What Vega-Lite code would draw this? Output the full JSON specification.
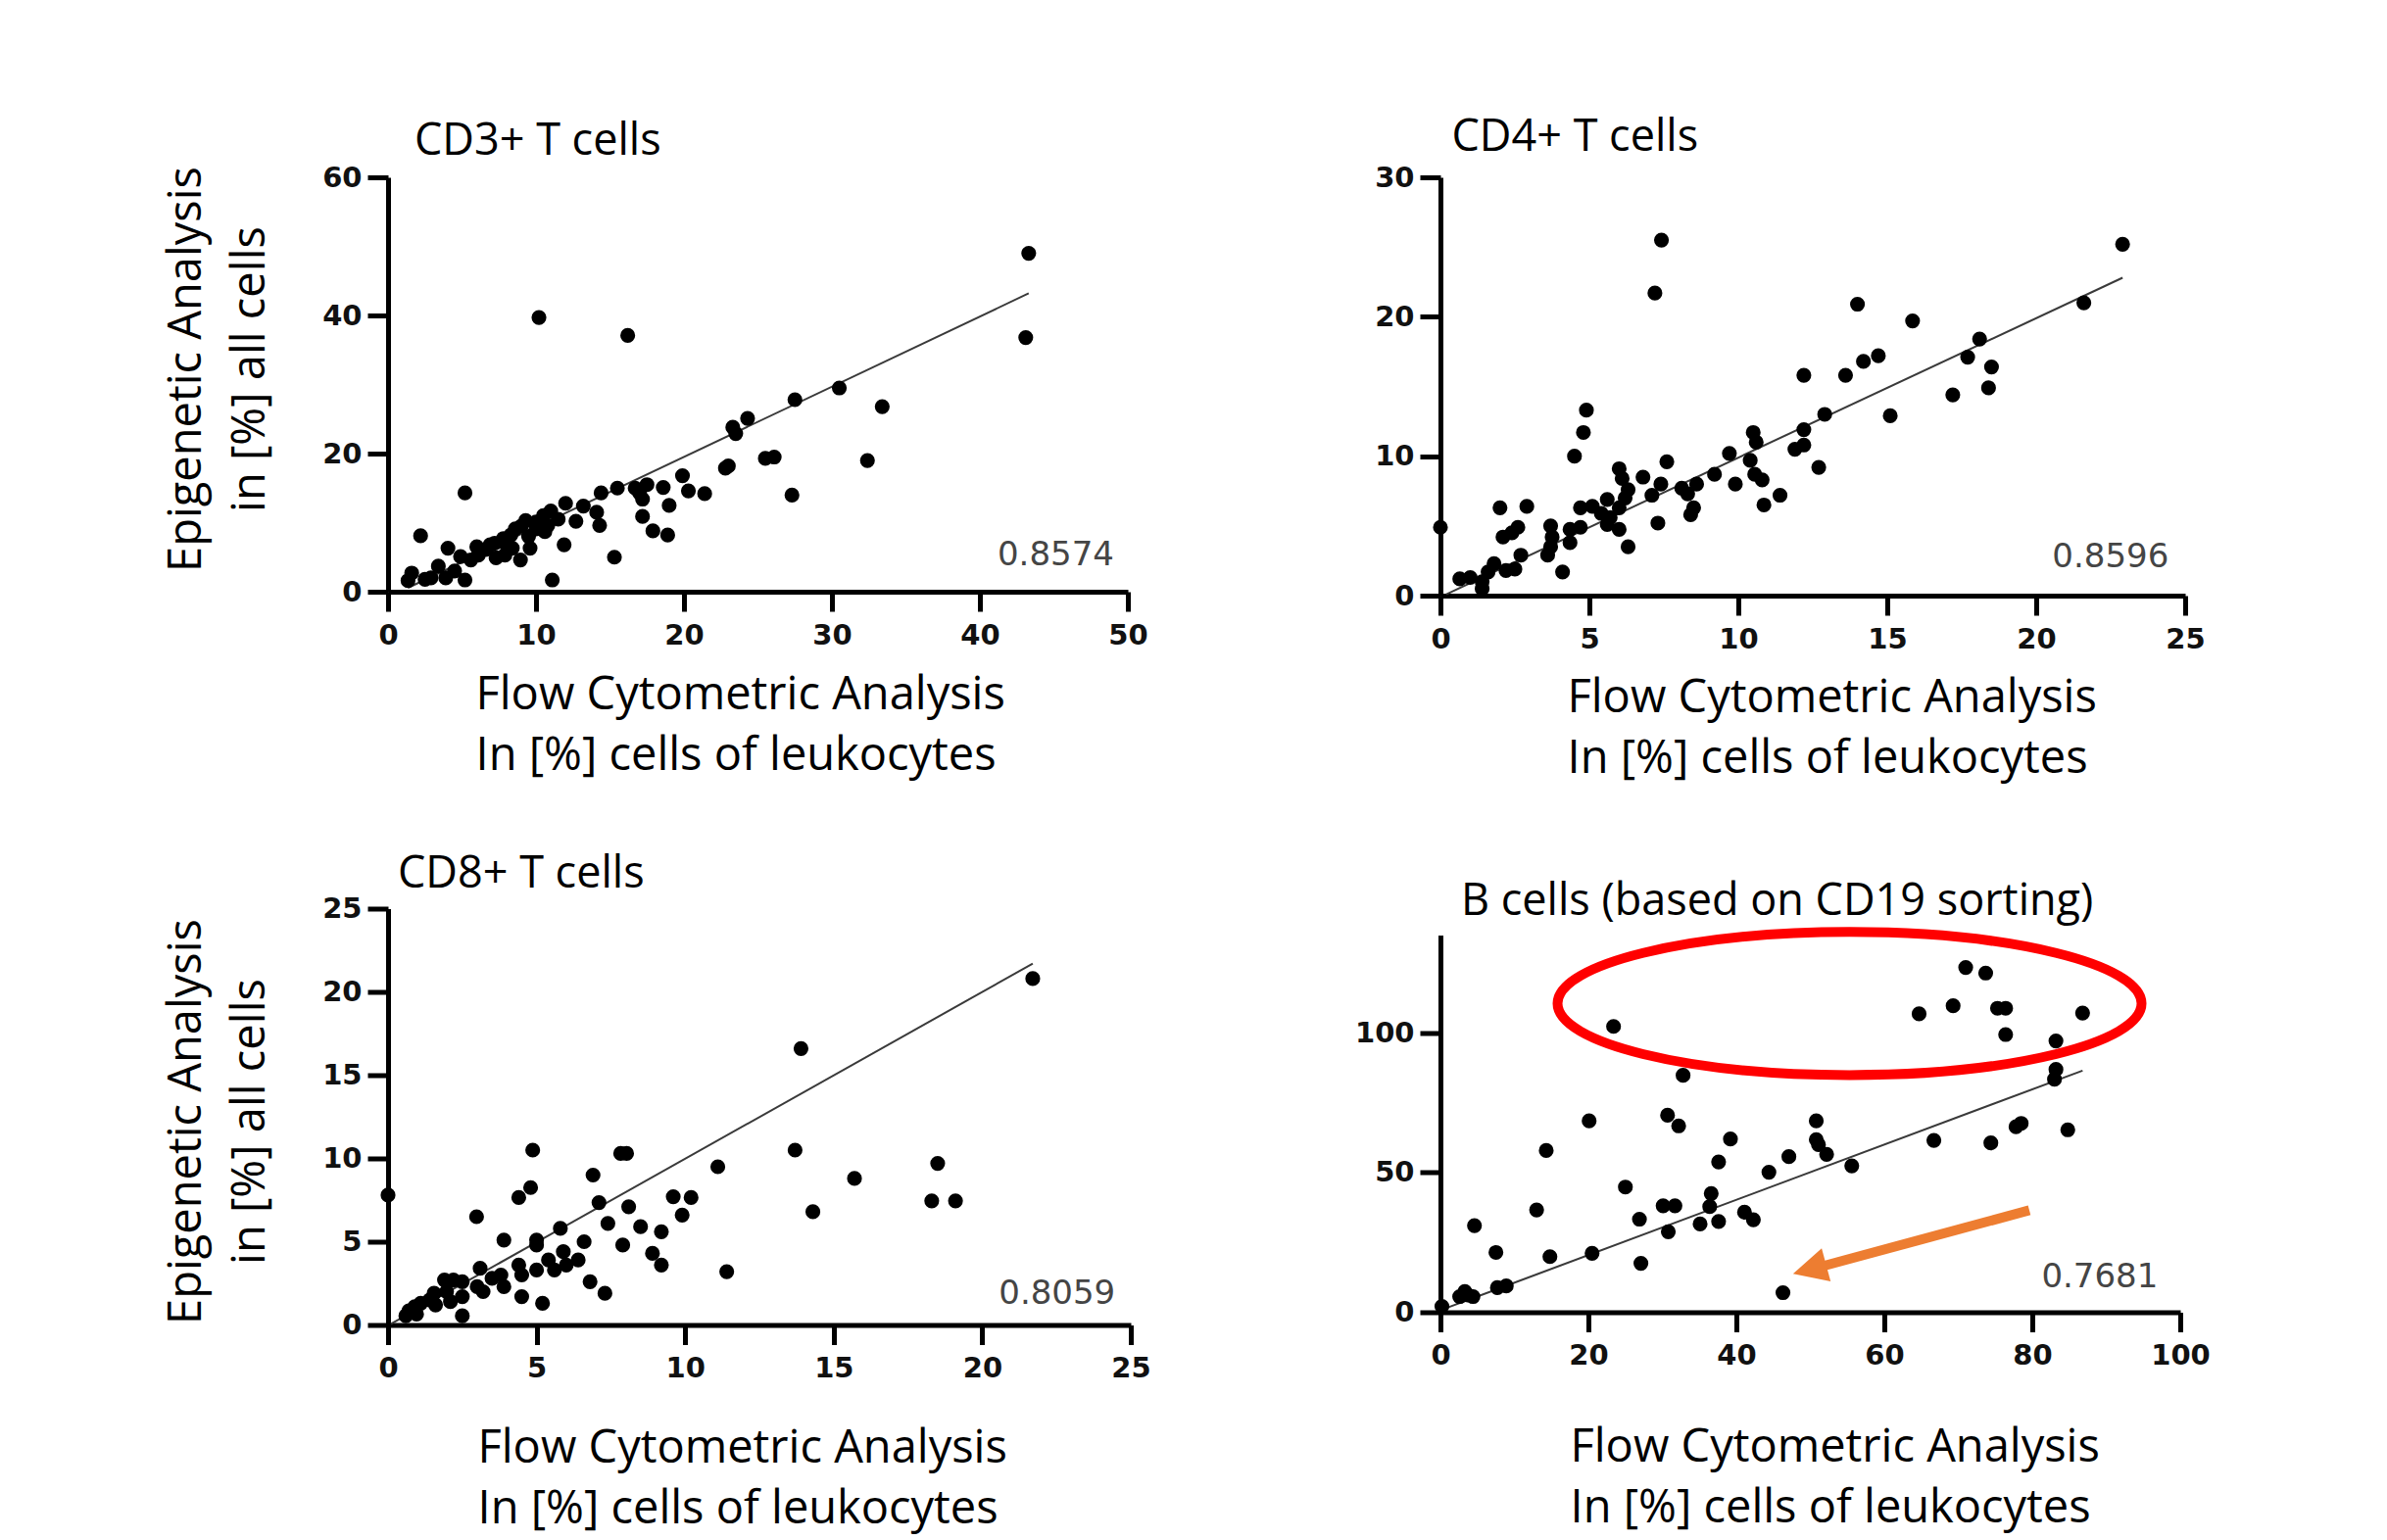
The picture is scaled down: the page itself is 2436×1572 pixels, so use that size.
{
  "$schema": "https://vega.github.io/schema/vega-lite/v6.json",
  "background": "white",
  "padding": {"left": 166, "top": 117, "right": 30, "bottom": 40},
  "datasets": {
    "cd3": [
      {"x":43.3,"y":49.0},{"x":43.1,"y":36.8},{"x":10.2,"y":39.7},{"x":16.2,"y":37.1},{"x":30.5,"y":29.5},{"x":27.5,"y":27.8},{"x":33.4,"y":26.8},{"x":24.3,"y":25.1},{"x":23.3,"y":23.8},{"x":23.5,"y":22.9},{"x":25.5,"y":19.3},{"x":26.1,"y":19.5},{"x":32.4,"y":19.0},{"x":22.8,"y":17.9},{"x":23.0,"y":18.2},{"x":19.9,"y":16.8},{"x":20.3,"y":14.6},{"x":21.4,"y":14.2},{"x":27.3,"y":14.0},{"x":18.6,"y":15.1},{"x":17.5,"y":15.5},{"x":16.7,"y":15.0},{"x":15.5,"y":15.0},{"x":14.4,"y":14.3},{"x":17.0,"y":14.3},{"x":17.2,"y":13.4},{"x":19.0,"y":12.5},{"x":17.2,"y":10.9},{"x":17.9,"y":8.8},{"x":18.9,"y":8.2},{"x":15.3,"y":5.0},{"x":12.0,"y":12.8},{"x":13.2,"y":12.4},{"x":14.1,"y":11.5},{"x":14.3,"y":9.6},{"x":12.7,"y":10.2},{"x":11.9,"y":6.8},{"x":11.1,"y":1.7},{"x":11.0,"y":11.7},{"x":10.5,"y":11.0},{"x":9.3,"y":10.3},{"x":10.0,"y":9.1},{"x":10.6,"y":8.7},{"x":9.6,"y":6.3},{"x":8.95,"y":4.6},{"x":8.3,"y":8.2},{"x":7.8,"y":7.7},{"x":6.9,"y":6.8},{"x":6.6,"y":6.1},{"x":6.1,"y":5.3},{"x":7.9,"y":5.3},{"x":8.4,"y":6.3},{"x":7.3,"y":4.9},{"x":5.6,"y":4.6},{"x":4.9,"y":5.1},{"x":4.05,"y":6.3},{"x":5.2,"y":14.3},{"x":2.2,"y":8.1},{"x":1.35,"y":1.6},{"x":1.6,"y":2.7},{"x":2.5,"y":1.8},{"x":3.4,"y":3.7},{"x":3.9,"y":2.0},{"x":4.5,"y":3.0},{"x":5.2,"y":1.7},{"x":2.9,"y":2.0},{"x":10.0,"y":10.1},{"x":10.8,"y":9.6},{"x":8.6,"y":9.1},{"x":9.0,"y":9.5},{"x":7.2,"y":7.0},{"x":6.0,"y":6.5},{"x":8.0,"y":6.8},{"x":9.5,"y":8.0},{"x":11.5,"y":10.5}
    ],
    "cd3_fit": [{"x":1.35,"y":0.57},{"x":43.3,"y":43.2}],
    "cd3_r": [{"x":49.07,"y":3.83,"label":"0.8574"}],
    "cd4": [
      {"x":7.42,"y":25.5},{"x":22.9,"y":25.2},{"x":7.2,"y":21.7},{"x":14.0,"y":20.9},{"x":21.6,"y":21.0},{"x":15.85,"y":19.7},{"x":18.1,"y":18.4},{"x":17.7,"y":17.1},{"x":14.7,"y":17.2},{"x":14.2,"y":16.8},{"x":18.5,"y":16.4},{"x":12.2,"y":15.8},{"x":13.6,"y":15.8},{"x":18.4,"y":14.9},{"x":17.2,"y":14.4},{"x":15.1,"y":12.9},{"x":12.9,"y":13.0},{"x":12.2,"y":11.9},{"x":12.2,"y":10.8},{"x":11.9,"y":10.5},{"x":12.7,"y":9.2},{"x":10.5,"y":11.7},{"x":10.6,"y":11.0},{"x":9.7,"y":10.2},{"x":10.4,"y":9.7},{"x":10.55,"y":8.7},{"x":10.8,"y":8.3},{"x":9.9,"y":8.0},{"x":11.4,"y":7.2},{"x":10.86,"y":6.5},{"x":9.2,"y":8.7},{"x":8.6,"y":8.0},{"x":8.1,"y":7.7},{"x":8.3,"y":7.3},{"x":8.5,"y":6.3},{"x":8.4,"y":5.8},{"x":7.6,"y":9.6},{"x":7.4,"y":8.0},{"x":7.1,"y":7.2},{"x":7.3,"y":5.2},{"x":6.8,"y":8.5},{"x":6.0,"y":9.1},{"x":6.1,"y":8.4},{"x":6.3,"y":7.6},{"x":6.2,"y":7.0},{"x":6.0,"y":6.3},{"x":6.0,"y":4.75},{"x":6.3,"y":3.5},{"x":5.6,"y":6.9},{"x":5.4,"y":5.9},{"x":5.6,"y":5.1},{"x":5.7,"y":5.6},{"x":5.1,"y":6.4},{"x":4.7,"y":6.3},{"x":4.9,"y":13.3},{"x":4.8,"y":11.7},{"x":4.5,"y":10.0},{"x":4.35,"y":4.75},{"x":4.7,"y":4.9},{"x":4.35,"y":3.8},{"x":4.1,"y":1.7},{"x":3.7,"y":5.0},{"x":3.75,"y":4.2},{"x":3.6,"y":2.9},{"x":3.7,"y":3.5},{"x":2.9,"y":6.4},{"x":2.0,"y":6.3},{"x":2.6,"y":4.9},{"x":2.4,"y":4.5},{"x":2.1,"y":4.2},{"x":2.7,"y":2.9},{"x":2.5,"y":1.9},{"x":2.2,"y":1.8},{"x":1.8,"y":2.3},{"x":1.6,"y":1.7},{"x":1.4,"y":1.0},{"x":1.4,"y":0.5},{"x":1.0,"y":1.3},{"x":0.65,"y":1.2},{"x":0,"y":4.9}
    ],
    "cd4_fit": [{"x":0.2,"y":0.1},{"x":22.9,"y":22.8}],
    "cd4_r": [{"x":24.45,"y":2.07,"label":"0.8596"}],
    "cd8": [
      {"x":21.7,"y":20.8},{"x":13.9,"y":16.6},{"x":13.7,"y":10.5},{"x":4.87,"y":10.5},{"x":7.83,"y":10.3},{"x":8.03,"y":10.3},{"x":11.1,"y":9.5},{"x":18.5,"y":9.7},{"x":15.7,"y":8.8},{"x":6.9,"y":9.0},{"x":18.3,"y":7.45},{"x":19.1,"y":7.45},{"x":14.3,"y":6.8},{"x":4.8,"y":8.25},{"x":4.4,"y":7.65},{"x":0,"y":7.8},{"x":7.1,"y":7.35},{"x":8.1,"y":7.1},{"x":9.6,"y":7.7},{"x":10.2,"y":7.65},{"x":9.9,"y":6.6},{"x":2.98,"y":6.5},{"x":7.4,"y":6.1},{"x":8.5,"y":5.9},{"x":9.2,"y":5.6},{"x":5.8,"y":5.8},{"x":3.9,"y":5.1},{"x":5.0,"y":5.1},{"x":5.0,"y":4.8},{"x":6.6,"y":5.0},{"x":7.9,"y":4.8},{"x":8.9,"y":4.3},{"x":9.2,"y":3.6},{"x":11.4,"y":3.2},{"x":5.9,"y":4.4},{"x":6.4,"y":3.9},{"x":6.0,"y":3.6},{"x":5.4,"y":3.9},{"x":5.6,"y":3.3},{"x":5.0,"y":3.3},{"x":4.5,"y":3.0},{"x":4.4,"y":3.6},{"x":6.8,"y":2.6},{"x":7.3,"y":1.9},{"x":5.2,"y":1.3},{"x":4.5,"y":1.7},{"x":3.9,"y":2.3},{"x":3.8,"y":3.0},{"x":3.5,"y":2.8},{"x":3.1,"y":3.4},{"x":3.2,"y":2.0},{"x":3.0,"y":2.3},{"x":2.5,"y":0.55},{"x":2.5,"y":1.7},{"x":2.5,"y":2.6},{"x":2.2,"y":2.7},{"x":1.9,"y":2.7},{"x":1.97,"y":2.0},{"x":1.55,"y":1.9},{"x":1.4,"y":1.5},{"x":1.1,"y":1.3},{"x":0.9,"y":1.1},{"x":0.7,"y":0.85},{"x":0.6,"y":0.55},{"x":0.96,"y":0.65},{"x":1.6,"y":1.2},{"x":2.1,"y":1.4}
    ],
    "cd8_fit": [{"x":0.1,"y":0.06},{"x":21.7,"y":21.7}],
    "cd8_r": [{"x":24.48,"y":1.27,"label":"0.8059"}],
    "bcells": [
      {"x":71.0,"y":123.4},{"x":73.7,"y":121.4},{"x":69.3,"y":109.7},{"x":64.7,"y":106.8},{"x":75.3,"y":108.8},{"x":76.4,"y":108.8},{"x":86.8,"y":107.1},{"x":76.4,"y":99.4},{"x":23.4,"y":102.3},{"x":83.2,"y":97.1},{"x":83.2,"y":86.9},{"x":83.0,"y":83.4},{"x":32.8,"y":84.8},{"x":30.7,"y":70.5},{"x":32.2,"y":66.7},{"x":20.1,"y":68.5},{"x":50.8,"y":68.5},{"x":50.8,"y":61.8},{"x":51.1,"y":60.0},{"x":52.2,"y":56.5},{"x":39.2,"y":62.0},{"x":78.5,"y":67.6},{"x":77.8,"y":66.4},{"x":84.8,"y":65.3},{"x":66.7,"y":61.5},{"x":74.4,"y":60.6},{"x":14.3,"y":57.9},{"x":47.1,"y":55.7},{"x":37.6,"y":53.8},{"x":44.4,"y":50.1},{"x":55.6,"y":52.4},{"x":25.0,"y":44.8},{"x":36.6,"y":42.5},{"x":36.4,"y":37.8},{"x":30.1,"y":38.1},{"x":31.7,"y":38.1},{"x":13.0,"y":36.6},{"x":41.1,"y":35.8},{"x":42.3,"y":33.1},{"x":26.9,"y":33.3},{"x":35.1,"y":31.6},{"x":37.6,"y":32.5},{"x":30.8,"y":28.8},{"x":4.6,"y":31.0},{"x":7.5,"y":21.4},{"x":14.8,"y":19.9},{"x":20.5,"y":21.1},{"x":27.1,"y":17.5},{"x":46.3,"y":7.0},{"x":7.7,"y":8.8},{"x":8.9,"y":9.4},{"x":3.3,"y":7.4},{"x":4.4,"y":5.6},{"x":3.7,"y":6.2},{"x":2.6,"y":5.6},{"x":0.2,"y":2.1}
    ],
    "b_fit": [{"x":0.2,"y":0.9},{"x":86.8,"y":86.5}],
    "b_r": [{"x":97.0,"y":9.1,"label":"0.7681"}],
    "b_ellipse": [{"x":55.3,"y":110.5}],
    "b_arrow": [{"x":79.6,"y":36.5,"x2":51.4,"y2":16.3}],
    "b_head": [{"x":49.9,"y":15.4}]
  },
  "hconcat": [
    {
      "vconcat": [
        {
          "width": 755, "height": 423,
          "title": {"text": "CD3+ T cells", "dx": 27, "offset": 0},
          "layer": [
            {"data": {"name": "cd3_fit"}, "mark": {"type": "line", "color": "#3a3a3a", "strokeWidth": 2},
             "encoding": {
               "x": {"field": "x", "type": "quantitative", "scale": {"domain": [0, 50], "nice": false, "zero": false},
                     "axis": {"values": [0,10,20,30,40,50], "title": ["Flow Cytometric Analysis", "In [%] cells of leukocytes"], "titleX": 89, "titleY": 119}},
               "y": {"field": "y", "type": "quantitative", "scale": {"domain": [0, 60], "nice": false, "zero": false},
                     "axis": {"values": [0,20,40,60], "title": ["Epigenetic Analysis", "in [%] all cells"], "titleX": -191.6, "titleY": 195.5}}
             }},
            {"data": {"name": "cd3"}, "mark": {"type": "circle", "size": 230, "color": "black", "opacity": 1},
             "encoding": {"x": {"field": "x", "type": "quantitative"}, "y": {"field": "y", "type": "quantitative"}}},
            {"data": {"name": "cd3_r"}, "mark": {"type": "text", "align": "right", "baseline": "alphabetic", "font": "DejaVu Sans", "fontSize": 34, "color": "#454545"},
             "encoding": {"x": {"field": "x", "type": "quantitative"}, "y": {"field": "y", "type": "quantitative"}, "text": {"field": "label"}}}
          ]
        },
        {
          "width": 758, "height": 425,
          "title": {"text": "CD8+ T cells", "dx": 10, "offset": -1},
          "layer": [
            {"data": {"name": "cd8_fit"}, "mark": {"type": "line", "color": "#3a3a3a", "strokeWidth": 2},
             "encoding": {
               "x": {"field": "x", "type": "quantitative", "scale": {"domain": [0, 25], "nice": false, "zero": false},
                     "axis": {"values": [0,5,10,15,20,25], "title": ["Flow Cytometric Analysis", "In [%] cells of leukocytes"], "titleX": 91, "titleY": 140}},
               "y": {"field": "y", "type": "quantitative", "scale": {"domain": [0, 25], "nice": false, "zero": false},
                     "axis": {"values": [0,5,10,15,20,25], "title": ["Epigenetic Analysis", "in [%] all cells"], "titleX": -191.6, "titleY": 217}}
             }},
            {"data": {"name": "cd8"}, "mark": {"type": "circle", "size": 230, "color": "black", "opacity": 1},
             "encoding": {"x": {"field": "x", "type": "quantitative"}, "y": {"field": "y", "type": "quantitative"}}},
            {"data": {"name": "cd8_r"}, "mark": {"type": "text", "align": "right", "baseline": "alphabetic", "font": "DejaVu Sans", "fontSize": 34, "color": "#454545"},
             "encoding": {"x": {"field": "x", "type": "quantitative"}, "y": {"field": "y", "type": "quantitative"}, "text": {"field": "label"}}}
          ]
        }
      ],
      "spacing": 75.5,
      "align": "none"
    },
    {
      "vconcat": [
        {
          "width": 760, "height": 427,
          "title": {"text": "CD4+ T cells", "dx": 11.5, "offset": 4.5},
          "layer": [
            {"data": {"name": "cd4_fit"}, "mark": {"type": "line", "color": "#3a3a3a", "strokeWidth": 2},
             "encoding": {
               "x": {"field": "x", "type": "quantitative", "scale": {"domain": [0, 25], "nice": false, "zero": false},
                     "axis": {"values": [0,5,10,15,20,25], "title": ["Flow Cytometric Analysis", "In [%] cells of leukocytes"], "titleX": 129, "titleY": 118}},
               "y": {"field": "y", "type": "quantitative", "scale": {"domain": [0, 30], "nice": false, "zero": false},
                     "axis": {"values": [0,10,20,30], "title": null}}
             }},
            {"data": {"name": "cd4"}, "mark": {"type": "circle", "size": 230, "color": "black", "opacity": 1},
             "encoding": {"x": {"field": "x", "type": "quantitative"}, "y": {"field": "y", "type": "quantitative"}}},
            {"data": {"name": "cd4_r"}, "mark": {"type": "text", "align": "right", "baseline": "alphabetic", "font": "DejaVu Sans", "fontSize": 34, "color": "#454545"},
             "encoding": {"x": {"field": "x", "type": "quantitative"}, "y": {"field": "y", "type": "quantitative"}, "text": {"field": "label"}}}
          ]
        },
        {
          "width": 755, "height": 385,
          "title": {"text": "B cells (based on CD19 sorting)", "dx": 21, "offset": -12},
          "layer": [
            {"data": {"name": "b_fit"}, "mark": {"type": "line", "color": "#3a3a3a", "strokeWidth": 2},
             "encoding": {
               "x": {"field": "x", "type": "quantitative", "scale": {"domain": [0, 100], "nice": false, "zero": false},
                     "axis": {"values": [0,20,40,60,80,100], "title": ["Flow Cytometric Analysis", "In [%] cells of leukocytes"], "titleX": 132, "titleY": 152}},
               "y": {"field": "y", "type": "quantitative", "scale": {"domain": [0, 135], "nice": false, "zero": false},
                     "axis": {"values": [0,50,100], "title": null}}
             }},
            {"data": {"name": "bcells"}, "mark": {"type": "circle", "size": 230, "color": "black", "opacity": 1},
             "encoding": {"x": {"field": "x", "type": "quantitative"}, "y": {"field": "y", "type": "quantitative"}}},
            {"data": {"name": "b_r"}, "mark": {"type": "text", "align": "right", "baseline": "alphabetic", "font": "DejaVu Sans", "fontSize": 34, "color": "#454545"},
             "encoding": {"x": {"field": "x", "type": "quantitative"}, "y": {"field": "y", "type": "quantitative"}, "text": {"field": "label"}}},
            {"data": {"name": "b_ellipse"}, "mark": {"type": "point", "shape": "M -1 0 A 1 0.245 0 1 1 1 0 A 1 0.245 0 1 1 -1 0 Z", "size": 355216, "filled": false, "color": "#ff0000", "strokeWidth": 10, "opacity": 1},
             "encoding": {"x": {"field": "x", "type": "quantitative"}, "y": {"field": "y", "type": "quantitative"}}},
            {"data": {"name": "b_arrow"}, "mark": {"type": "rule", "color": "#ED7D31", "strokeWidth": 10, "strokeCap": "butt"},
             "encoding": {"x": {"field": "x", "type": "quantitative"}, "y": {"field": "y", "type": "quantitative"}, "x2": {"field": "x2"}, "y2": {"field": "y2"}}},
            {"data": {"name": "b_head"}, "mark": {"type": "point", "shape": "M 0 -1 L -1 1 L 1 1 Z", "size": 1225, "filled": true, "color": "#ED7D31", "angle": 254.9, "opacity": 1},
             "encoding": {"x": {"field": "x", "type": "quantitative"}, "y": {"field": "y", "type": "quantitative"}}}
          ]
        }
      ],
      "spacing": 346.5,
      "bounds": "flush",
      "align": "none"
    }
  ],
  "spacing": 207,
  "align": "none",
  "config": {
    "view": {"stroke": null},
    "title": {"font": "Open Sans", "fontSize": 45, "fontWeight": "normal", "color": "black", "anchor": "start", "frame": "group", "baseline": "alphabetic"},
    "axis": {
      "grid": false, "domainColor": "black", "domainWidth": 5, "tickColor": "black", "tickWidth": 5,
      "labelFont": "DejaVu Sans", "labelFontWeight": "bold", "labelFontSize": 29, "labelColor": "#111111",
      "labelFlush": false, "labelOverlap": false,
      "titleFont": "Open Sans", "titleFontSize": 47, "titleFontWeight": "normal", "titleColor": "black",
      "titleBaseline": "alphabetic"
    },
    "axisX": {"tickSize": 20, "labelPadding": 10, "titleAlign": "left", "titleAnchor": "start", "titleLineHeight": 62},
    "axisY": {"tickSize": 21, "labelPadding": 6, "titleAlign": "center", "titleAngle": 270, "titleLineHeight": 65}
  }
}
